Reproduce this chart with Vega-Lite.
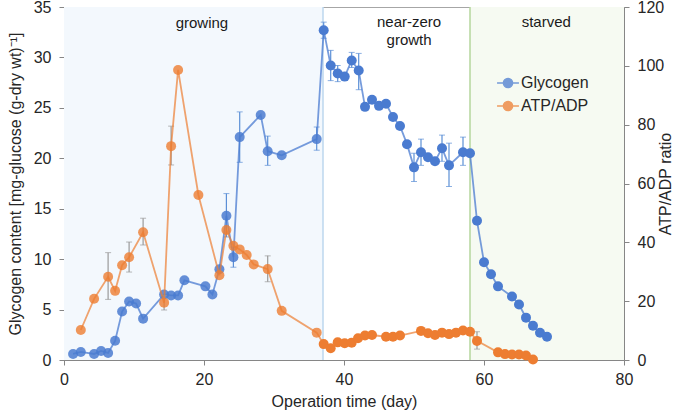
{
  "$schema": "https://vega.github.io/schema/vega-lite/v6.json",
  "width": 560,
  "height": 353,
  "autosize": {"type": "none"},
  "padding": {"left": 64, "top": 7, "right": 61, "bottom": 52},
  "background": "white",
  "config": {
    "font": "Liberation Sans",
    "view": {"stroke": "#a6a6a6", "strokeWidth": 1},
    "axis": {
      "grid": false,
      "labelFlush": false,
      "domainColor": "#868686",
      "tickColor": "#868686",
      "tickSize": 5,
      "labelColor": "#262626",
      "labelFontSize": 16,
      "titleFontSize": 16,
      "titleFontWeight": "normal",
      "titleColor": "#262626",
      "labelFont": "Liberation Sans",
      "titleFont": "Liberation Sans"
    },
    "legend": {
      "labelFontSize": 16,
      "labelColor": "#262626",
      "labelFont": "Liberation Sans"
    }
  },
  "datasets": {
    "glyc": [
      {"day": 1.3, "v": 0.6}, {"day": 2.4, "v": 0.8}, {"day": 4.3, "v": 0.6}, {"day": 5.3, "v": 0.9},
      {"day": 6.3, "v": 0.7}, {"day": 7.3, "v": 1.9}, {"day": 8.3, "v": 4.8}, {"day": 9.3, "v": 5.8},
      {"day": 10.3, "v": 5.6}, {"day": 11.3, "v": 4.1}, {"day": 14.3, "v": 6.5}, {"day": 15.3, "v": 6.4},
      {"day": 16.3, "v": 6.4}, {"day": 17.2, "v": 7.9}, {"day": 20.2, "v": 7.3}, {"day": 21.2, "v": 6.5},
      {"day": 22.2, "v": 9.0}, {"day": 23.2, "v": 14.3}, {"day": 24.2, "v": 10.2}, {"day": 25.1, "v": 22.1},
      {"day": 28.1, "v": 24.3}, {"day": 29.1, "v": 20.7}, {"day": 31.1, "v": 20.3}, {"day": 36.1, "v": 21.9},
      {"day": 37.1, "v": 32.7}, {"day": 38.1, "v": 29.2}, {"day": 39.1, "v": 28.4}, {"day": 40.1, "v": 28.1},
      {"day": 41.1, "v": 29.7}, {"day": 42.1, "v": 28.7}, {"day": 43, "v": 25.1}, {"day": 44, "v": 25.8},
      {"day": 45, "v": 25.2}, {"day": 46, "v": 25.4}, {"day": 47, "v": 24.1}, {"day": 48, "v": 23.2},
      {"day": 49, "v": 21.4}, {"day": 50, "v": 19.1}, {"day": 51, "v": 20.6}, {"day": 52, "v": 20.1},
      {"day": 53, "v": 19.7}, {"day": 54, "v": 21.0}, {"day": 55, "v": 19.3}, {"day": 57, "v": 20.6},
      {"day": 58, "v": 20.5}, {"day": 59, "v": 13.8}, {"day": 60, "v": 9.7}, {"day": 61, "v": 8.5},
      {"day": 62, "v": 7.3}, {"day": 64, "v": 6.3}, {"day": 65, "v": 5.5}, {"day": 66, "v": 4.2},
      {"day": 67, "v": 3.4}, {"day": 68, "v": 2.7}, {"day": 69, "v": 2.3}
    ],
    "atp": [
      {"day": 2.4, "v": 10.2}, {"day": 4.3, "v": 20.8}, {"day": 6.3, "v": 28.3}, {"day": 7.3, "v": 23.5},
      {"day": 8.3, "v": 32.2}, {"day": 9.3, "v": 34.9}, {"day": 11.3, "v": 43.4}, {"day": 14.3, "v": 19.5},
      {"day": 15.3, "v": 72.7}, {"day": 16.3, "v": 98.6}, {"day": 19.2, "v": 56.1}, {"day": 22.2, "v": 28.8},
      {"day": 23.2, "v": 44.2}, {"day": 24.2, "v": 38.8}, {"day": 25.1, "v": 37.6}, {"day": 26.1, "v": 35.7},
      {"day": 27.1, "v": 32.5}, {"day": 29.1, "v": 30.9}, {"day": 31.1, "v": 16.7}, {"day": 36.1, "v": 9.3},
      {"day": 37.1, "v": 5.4}, {"day": 38.1, "v": 4.0}, {"day": 39.1, "v": 6.0}, {"day": 40.1, "v": 5.7},
      {"day": 41.1, "v": 5.9}, {"day": 42, "v": 7.4}, {"day": 43, "v": 8.3}, {"day": 44, "v": 8.5},
      {"day": 46, "v": 7.9}, {"day": 47, "v": 7.9}, {"day": 48, "v": 8.3}, {"day": 51, "v": 9.9},
      {"day": 52, "v": 9.1}, {"day": 53, "v": 8.5}, {"day": 54, "v": 9.3}, {"day": 55, "v": 8.8},
      {"day": 56, "v": 9.3}, {"day": 57, "v": 10.0}, {"day": 58, "v": 9.6}, {"day": 59, "v": 6.5},
      {"day": 62, "v": 2.6}, {"day": 63, "v": 2.0}, {"day": 64, "v": 1.9}, {"day": 65, "v": 1.9},
      {"day": 66, "v": 1.5}, {"day": 67, "v": 0.2}
    ],
    "gerr": [
      {"day": 23.2, "lo": 12.2, "hi": 16.5}, {"day": 24.2, "lo": 9.2, "hi": 11.2},
      {"day": 25.1, "lo": 19.6, "hi": 24.6}, {"day": 29.1, "lo": 19.3, "hi": 22.2},
      {"day": 36.1, "lo": 20.8, "hi": 23.1}, {"day": 37.1, "lo": 31.9, "hi": 33.5},
      {"day": 38.1, "lo": 27.7, "hi": 30.7}, {"day": 39.1, "lo": 27.6, "hi": 29.2},
      {"day": 41.1, "lo": 29.0, "hi": 30.5}, {"day": 42.1, "lo": 26.8, "hi": 30.4},
      {"day": 50, "lo": 17.7, "hi": 20.5}, {"day": 51, "lo": 19.3, "hi": 21.9},
      {"day": 54, "lo": 19.7, "hi": 22.3}, {"day": 55, "lo": 17.2, "hi": 21.5},
      {"day": 57, "lo": 19.3, "hi": 22.1}
    ],
    "aerr": [
      {"day": 6.3, "lo": 20.6, "hi": 36.5}, {"day": 9.3, "lo": 29.9, "hi": 40.1},
      {"day": 11.3, "lo": 39.1, "hi": 48.2}, {"day": 14.3, "lo": 17.0, "hi": 22.0},
      {"day": 15.3, "lo": 66.3, "hi": 79.5}, {"day": 29.1, "lo": 26.6, "hi": 35.4},
      {"day": 59, "lo": 3.7, "hi": 9.6}
    ],
    "phases": [
      {"start": 0, "end": 37, "phase": "growing"},
      {"start": 58, "end": 80, "phase": "starved"}
    ],
    "labels": [
      {"day": 19.7, "y": 33.4, "label": "growing"},
      {"day": 49.3, "y": 33.5, "label": "near-zero"},
      {"day": 49.3, "y": 31.75, "label": "growth"},
      {"day": 68.9, "y": 33.5, "label": "starved"}
    ]
  },
  "layer": [
    {
      "layer": [
        {
          "data": {"name": "phases"},
          "mark": {"type": "rect"},
          "encoding": {
            "x": {"field": "start", "type": "quantitative", "title": "Operation time (day)"},
            "x2": {"field": "end"},
            "fill": {"field": "phase", "type": "nominal", "scale": {"domain": ["growing", "starved"], "range": ["#F3F8FD", "#F6FAF2"]}, "legend": null}
          }
        },
        {
          "data": {"values": [{"day": 37, "phase": "growing"}, {"day": 58, "phase": "starved"}]},
          "mark": {"type": "rule", "strokeWidth": 1.5},
          "encoding": {
            "x": {"field": "day", "type": "quantitative", "title": "Operation time (day)"},
            "stroke": {"field": "phase", "type": "nominal", "scale": {"domain": ["growing", "starved"], "range": ["#BDD7EE", "#B5D69C"]}, "legend": null}
          }
        },
        {
          "data": {"name": "labels"},
          "mark": {"type": "text", "fontSize": 15, "color": "#1a1a1a", "baseline": "middle", "align": "center"},
          "encoding": {
            "x": {"field": "day", "type": "quantitative", "title": "Operation time (day)"},
            "y": {"field": "y", "type": "quantitative", "title": "Glycogen content [mg-glucose (g-dry wt)⁻¹]"},
            "text": {"field": "label"}
          }
        },
        {
          "data": {"name": "gerr"},
          "mark": {"type": "errorbar", "ticks": {"size": 6, "color": "#5B8FD6"}, "rule": {"color": "#5B8FD6", "strokeWidth": 1.2}},
          "encoding": {
            "x": {"field": "day", "type": "quantitative", "title": "Operation time (day)"},
            "y": {"field": "lo", "type": "quantitative", "title": "Glycogen content [mg-glucose (g-dry wt)⁻¹]"},
            "y2": {"field": "hi"}
          }
        },
        {
          "data": {"name": "glyc"},
          "transform": [{"calculate": "'Glycogen'", "as": "series"}],
          "mark": {"type": "line", "strokeWidth": 1.8, "opacity": 0.75},
          "encoding": {
            "x": {"field": "day", "type": "quantitative", "title": "Operation time (day)"},
            "y": {"field": "v", "type": "quantitative", "title": "Glycogen content [mg-glucose (g-dry wt)⁻¹]"},
            "color": {"field": "series", "type": "nominal"}
          }
        },
        {
          "data": {"name": "glyc"},
          "transform": [{"calculate": "'Glycogen'", "as": "series"}],
          "mark": {"type": "point", "filled": true, "size": 100},
          "encoding": {
            "x": {"field": "day", "type": "quantitative", "title": "Operation time (day)", "scale": {"domain": [0, 80]}, "axis": {"values": [0, 20, 40, 60, 80], "labelPadding": 6, "titlePadding": 6}},
            "y": {"field": "v", "type": "quantitative", "title": "Glycogen content [mg-glucose (g-dry wt)⁻¹]", "scale": {"domain": [0, 35]}, "axis": {"orient": "left", "values": [0, 5, 10, 15, 20, 25, 30, 35], "labelPadding": 8, "titlePadding": 10}},
            "opacity": {"condition": {"test": "datum.day < 37", "value": 0.85}, "value": 1},
            "color": {"field": "series", "type": "nominal",
              "scale": {"domain": ["Glycogen", "ATP/ADP"], "range": ["#4A7BD0", "#ED7D31"]},
              "legend": {"title": null, "orient": "none", "legendX": 432, "legendY": 64,
                "symbolType": "M-1,0H-0.42M0.42,0H1M0.42,0A0.42,0.42,0,1,1,-0.42,0A0.42,0.42,0,1,1,0.42,0",
                "symbolSize": 480, "symbolStrokeWidth": 1.5, "symbolOpacity": 0.85, "rowPadding": 3, "labelOffset": 1}}
          }
        }
      ]
    },
    {
      "layer": [
        {
          "data": {"name": "aerr"},
          "mark": {"type": "errorbar", "ticks": {"size": 6, "color": "#9a9a9a"}, "rule": {"color": "#9a9a9a", "strokeWidth": 1.2}},
          "encoding": {
            "x": {"field": "day", "type": "quantitative", "title": "Operation time (day)"},
            "y": {"field": "lo", "type": "quantitative", "title": "ATP/ADP ratio", "scale": {"domain": [0, 120]}},
            "y2": {"field": "hi"}
          }
        },
        {
          "data": {"name": "atp"},
          "transform": [{"calculate": "'ATP/ADP'", "as": "series"}],
          "mark": {"type": "line", "strokeWidth": 1.8, "opacity": 0.7},
          "encoding": {
            "x": {"field": "day", "type": "quantitative", "title": "Operation time (day)"},
            "y": {"field": "v", "type": "quantitative", "title": "ATP/ADP ratio"},
            "color": {"field": "series", "type": "nominal"}
          }
        },
        {
          "data": {"name": "atp"},
          "transform": [{"calculate": "'ATP/ADP'", "as": "series"}],
          "mark": {"type": "point", "filled": true, "size": 100},
          "encoding": {
            "x": {"field": "day", "type": "quantitative", "title": "Operation time (day)"},
            "y": {"field": "v", "type": "quantitative", "title": "ATP/ADP ratio", "scale": {"domain": [0, 120]}, "axis": {"orient": "right", "values": [0, 20, 40, 60, 80, 100, 120], "titleAngle": 270, "labelPadding": 8, "titlePadding": 10}},
            "opacity": {"condition": {"test": "datum.day < 37", "value": 0.8}, "value": 1},
            "color": {"field": "series", "type": "nominal"}
          }
        }
      ]
    }
  ],
  "resolve": {"scale": {"y": "independent"}}
}
